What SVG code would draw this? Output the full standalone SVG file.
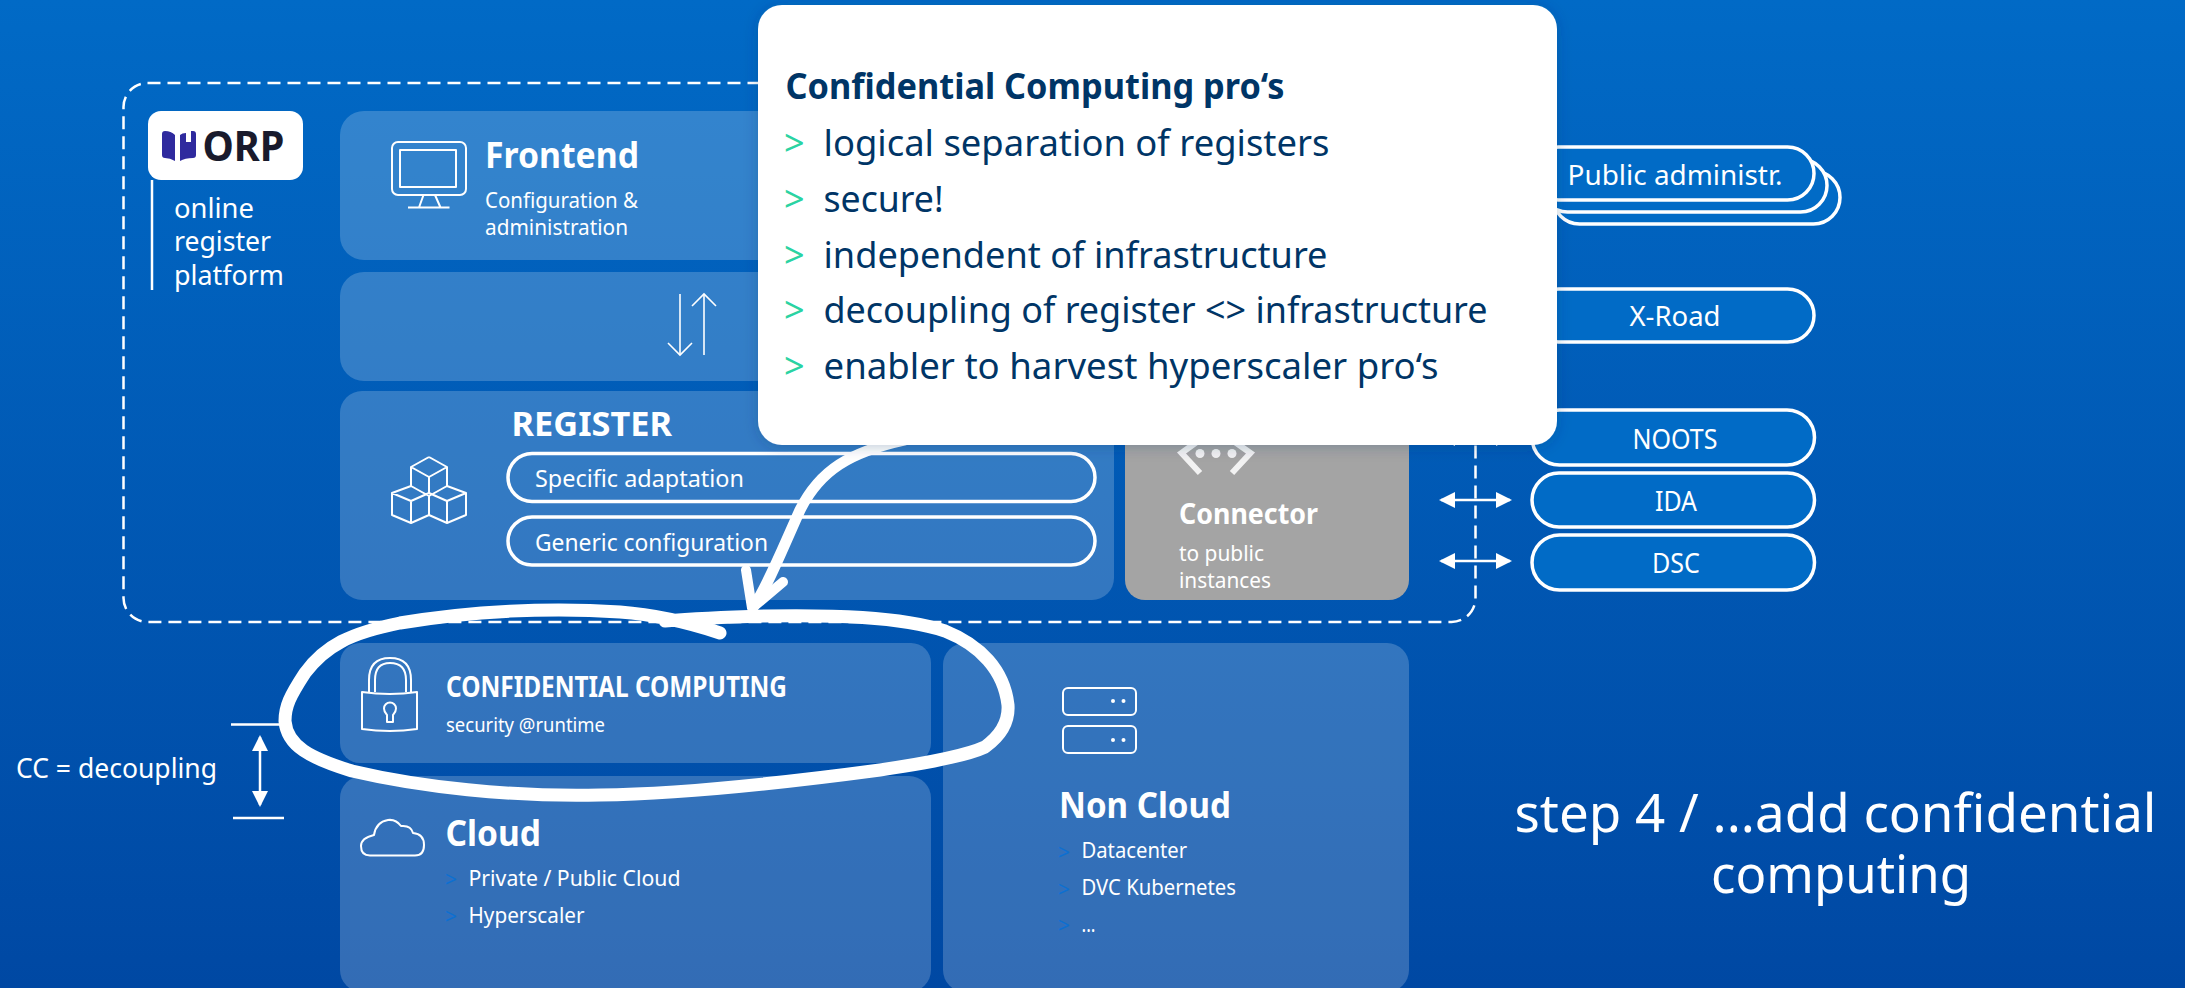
<svg xmlns="http://www.w3.org/2000/svg" width="2185" height="988" viewBox="0 0 2185 988">
<defs>
<linearGradient id="bg" x1="0" y1="0" x2="0" y2="1"><stop offset="0" stop-color="#016ac6"/><stop offset="1" stop-color="#0048a3"/></linearGradient>
<filter id="sh" x="-5%" y="-5%" width="110%" height="110%"><feDropShadow dx="0" dy="2" stdDeviation="7" flood-color="#002a60" flood-opacity="0.25"/></filter>
<marker id="solid" markerUnits="userSpaceOnUse" viewBox="0 0 16 16" refX="14" refY="8" markerWidth="16" markerHeight="16" orient="auto-start-reverse"><path d="M0 0L16 8L0 16Z" fill="#fff"/></marker>
<marker id="open" markerUnits="userSpaceOnUse" viewBox="0 0 28 28" refX="14" refY="14" markerWidth="28" markerHeight="28" orient="auto"><path d="M2 2L14 14L2 26" fill="none" stroke="#fff" stroke-width="1.6"/></marker>
</defs>
<style>
text{font-family:"Noto Sans","Open Sans","DejaVu Sans",sans-serif;fill:#fff}
.b{font-weight:700}
.panel{fill:#fff;fill-opacity:.2}
.pill{fill:#016bc6;stroke:#fff;stroke-width:3.5}
.opill{fill:none;stroke:#fff;stroke-width:3.5}
.icon{fill:none;stroke:#fff;stroke-width:2;stroke-linejoin:round}
.t21{font-size:21px}
.t24{font-size:24px}
.t27{font-size:27px}
.t36{font-size:36px}
.gt{fill:#003566;font-size:36px}
.gr{fill:#2bd3a2;font-size:36px}
.bl{fill:#0d6fd1;font-size:21px}
.ink{fill:none;stroke:#fff;stroke-linecap:round;stroke-linejoin:round}
.c{text-anchor:middle}
</style>
<rect width="2185" height="988" fill="url(#bg)"/>
<rect id="boundary" x="123.500" y="83" width="1352" height="539" rx="24" fill="none" stroke="#fff" stroke-width="2.500" stroke-dasharray="13 7"/>

<g id="orp">
<path d="M152 180V290" stroke="#fff" stroke-width="2.500" fill="none"/>
<rect x="148" y="111" width="155" height="69" rx="13" fill="#fff"/>
<path d="M162 134q0-3 3-3q6 0 10 4v26q-5-3-10-3q-3 0-3-3ZM196 134q0-3-3-3l-2 0v11h-5v-9q-4 0-6 2v26q5-3 13-3q3 0 3-3Z" fill="#2f2a9e"/>
<text x="202.500" y="161" class="b" font-size="41" style="fill:#191a2c" textLength="82" lengthAdjust="spacingAndGlyphs">ORP</text>
<text x="174" y="218" class="t27" textLength="80" lengthAdjust="spacingAndGlyphs">online</text>
<text x="174" y="251" class="t27" textLength="97" lengthAdjust="spacingAndGlyphs">register</text>
<text x="174" y="285" class="t27" textLength="110" lengthAdjust="spacingAndGlyphs">platform</text>
</g>

<g id="frontend">
<rect class="panel" x="340" y="111" width="1069" height="149" rx="24"/>
<rect class="icon" x="392" y="142" width="74" height="53" rx="6"/>
<rect class="icon" x="400" y="150" width="56" height="37"/>
<path class="icon" d="M423.500 195L419 207.500M435 195L440.500 207.500M408 207.500H449.500"/>
<text x="485" y="168" class="b t36" textLength="154" lengthAdjust="spacingAndGlyphs">Frontend</text>
<text x="485" y="208" class="t21" textLength="153" lengthAdjust="spacingAndGlyphs">Configuration &amp;</text>
<text x="485" y="235" class="t21" textLength="143" lengthAdjust="spacingAndGlyphs">administration</text>
</g>

<g id="middle-layer"><rect class="panel" x="340" y="272" width="1069" height="109" rx="24"/></g>

<g id="register">
<rect class="panel" x="340" y="391" width="774" height="209" rx="22"/>
<path class="icon" d="M429 457L447 467V486M429 457L411 467V486M411 467L429 477L447 467M429 477V493"/>
<path class="icon" d="M411 486L429 496V515L411 523L392 515V493Z M392 493L411 501L429 493M411 501V523"/>
<path class="icon" d="M447 486L429 496M447 486L466 493V515L447 523L429 515M429 493L447 501L466 493M447 501V523"/>
<text x="511.500" y="436" class="b" font-size="34" textLength="160.500" lengthAdjust="spacingAndGlyphs">REGISTER</text>
<rect class="opill" x="508" y="453.500" width="587" height="48" rx="24"/>
<rect class="opill" x="508" y="517" width="587" height="48" rx="24"/>
<text x="535" y="487" class="t24" textLength="209" lengthAdjust="spacingAndGlyphs">Specific adaptation</text>
<text x="535" y="551" class="t24" textLength="233" lengthAdjust="spacingAndGlyphs">Generic configuration</text>
</g>

<g id="connector">
<rect x="1125" y="391" width="284" height="209" rx="20" fill="#a4a4a4"/>
<path d="M1199.500 440L1181.500 453L1200 473M1232 440L1250.500 453L1232 473" fill="none" stroke="#f2f2f2" stroke-width="6"/>
<circle cx="1200" cy="453.500" r="4.500" fill="#f2f2f2"/><circle cx="1216" cy="453.500" r="4.500" fill="#f2f2f2"/><circle cx="1232" cy="453.500" r="4.500" fill="#f2f2f2"/>
<text x="1179" y="524" class="b" font-size="28" textLength="139" lengthAdjust="spacingAndGlyphs">Connector</text>
<text x="1179" y="561" class="t21" textLength="85" lengthAdjust="spacingAndGlyphs">to public</text>
<text x="1179" y="588" class="t21" textLength="92" lengthAdjust="spacingAndGlyphs">instances</text>
</g>

<g id="confidential-computing">
<rect class="panel" x="340" y="643" width="591" height="120" rx="20"/>
<path class="icon" d="M362 692Q390 696 417 692V729Q390 733 362 729Z"/>
<path class="icon" d="M369 692V680Q369 658 390 658Q411 658 411 680V692M375 692V680Q375 663 390 663Q406 663 406 680V692"/>
<path class="icon" d="M387 722V715Q384 712 384 708.500A6 6 0 0 1 396 708.500Q396 712 393 715V722Z"/>
<text x="446" y="697" class="b" font-size="28" textLength="341" lengthAdjust="spacingAndGlyphs">CONFIDENTIAL COMPUTING</text>
<text x="446" y="732" font-size="19" textLength="159" lengthAdjust="spacingAndGlyphs">security @runtime</text>
</g>

<g id="cloud">
<rect class="panel" x="340" y="776" width="591" height="216" rx="22"/>
<path class="icon" d="M370 855.500H415Q424 855.500 424 845Q424 834 413 833Q411 825 401 826Q396 819 388 820Q376 822 374 835Q361 838 361 846Q361 855.500 370 855.500Z"/>
<text x="445.500" y="846" class="b t36" textLength="95.500" lengthAdjust="spacingAndGlyphs">Cloud</text>
<text x="445" y="887" class="bl">&gt;</text>
<text x="468.500" y="886" class="t21" textLength="212" lengthAdjust="spacingAndGlyphs">Private / Public Cloud</text>
<text x="445" y="924" class="bl">&gt;</text>
<text x="468.500" y="923" class="t21" textLength="116" lengthAdjust="spacingAndGlyphs">Hyperscaler</text>
</g>

<g id="non-cloud">
<rect class="panel" x="943" y="643" width="466" height="349" rx="22"/>
<rect class="icon" x="1063" y="688" width="73" height="27" rx="5"/>
<rect class="icon" x="1063" y="726" width="73" height="27" rx="5"/>
<circle cx="1113" cy="701" r="2" fill="#fff"/><circle cx="1123.500" cy="701" r="2" fill="#fff"/>
<circle cx="1113" cy="740" r="2" fill="#fff"/><circle cx="1123.500" cy="740" r="2" fill="#fff"/>
<text x="1059" y="818" class="b t36" textLength="172" lengthAdjust="spacingAndGlyphs">Non Cloud</text>
<text x="1058" y="860" class="bl">&gt;</text>
<text x="1081.500" y="858" class="t21" textLength="105.500" lengthAdjust="spacingAndGlyphs">Datacenter</text>
<text x="1058" y="897" class="bl">&gt;</text>
<text x="1081.500" y="895" class="t21" textLength="154.500" lengthAdjust="spacingAndGlyphs">DVC Kubernetes</text>
<text x="1058" y="933" class="bl">&gt;</text>
<text x="1081.500" y="932" class="t21" textLength="14" lengthAdjust="spacingAndGlyphs">...</text>
</g>

<g id="public-administr">
<rect class="pill" x="1553" y="171" width="287" height="53" rx="26.500"/>
<rect class="pill" x="1541" y="159" width="286" height="53" rx="26.500"/>
<rect class="pill" x="1532" y="147" width="282" height="53" rx="26.500"/>
<text x="1567.500" y="184.500" class="t27" textLength="215" lengthAdjust="spacingAndGlyphs">Public administr.</text>
</g>
<g id="x-road"><rect class="pill" x="1532" y="289" width="282" height="53" rx="26.500"/><text x="1675" y="326" class="t27 c" textLength="91" lengthAdjust="spacingAndGlyphs">X-Road</text></g>
<g id="noots"><rect class="pill" x="1532" y="410" width="282.500" height="55" rx="27.500"/><text x="1675" y="449" class="t27 c" textLength="85" lengthAdjust="spacingAndGlyphs">NOOTS</text></g>
<g id="ida"><rect class="pill" x="1532" y="473" width="282.500" height="54" rx="27"/><text x="1676" y="511" class="t27 c" textLength="42" lengthAdjust="spacingAndGlyphs">IDA</text></g>
<g id="dsc"><rect class="pill" x="1532" y="535" width="282.500" height="55" rx="27.500"/><text x="1676" y="573" class="t27 c" textLength="48" lengthAdjust="spacingAndGlyphs">DSC</text></g>

<g id="decoupling">
<text x="16" y="778" class="t27" textLength="201" lengthAdjust="spacingAndGlyphs">CC = decoupling</text>
<path d="M231 724.500H285M233 818H284" stroke="#fff" stroke-width="2.500" fill="none"/>
</g>

<g id="connectors" fill="none" stroke="#fff">
<path d="M680 294V355" stroke-width="1.600" marker-end="url(#open)"/>
<path d="M704 355V294" stroke-width="1.600" marker-end="url(#open)"/>
<path d="M1441 438H1510" stroke-width="2.500" marker-start="url(#solid)" marker-end="url(#solid)"/>
<path d="M1441 500H1510" stroke-width="2.500" marker-start="url(#solid)" marker-end="url(#solid)"/>
<path d="M1441 561H1510" stroke-width="2.500" marker-start="url(#solid)" marker-end="url(#solid)"/>
<path d="M260 737V805" stroke-width="2.500" marker-start="url(#solid)" marker-end="url(#solid)"/>
</g>

<g id="pointer-arrow">
<path class="ink" stroke-width="11" d="M905 440C850 452 820 470 800 510C782 550 768 585 754 606"/>
<path class="ink" stroke-width="10" d="M746 570L752 608L783 582"/>
</g>

<g id="highlight-loop">
<path class="ink" stroke-width="13" stroke-linecap="butt" d="M720 633C690 623 660 615 620 612C550 607 470 611 400 623C350 633 325 646 305 673C290 696 285 706 285 721C287 746 310 758 352 771C420 787 510 797 600 795C680 794 790 782 880 770C935 762 970 754 985 747C1003 734 1009 720 1008 705C1004 670 980 645 945 631C900 616 830 615 765 616C730 617 700 618 665 621"/>
</g>

<g id="popup">
<rect x="758" y="5" width="799" height="440" rx="24" fill="#fff" filter="url(#sh)"/>
<text x="785.500" y="99" class="b t36" style="fill:#003566" textLength="499" lengthAdjust="spacingAndGlyphs">Confidential Computing pro‘s</text>
<text x="784" y="156" class="gr">&gt;</text><text x="823.500" y="155.500" class="gt" textLength="506" lengthAdjust="spacingAndGlyphs">logical separation of registers</text>
<text x="784" y="212" class="gr">&gt;</text><text x="823.500" y="211.500" class="gt" textLength="120" lengthAdjust="spacingAndGlyphs">secure!</text>
<text x="784" y="268" class="gr">&gt;</text><text x="823.500" y="267.500" class="gt" textLength="504" lengthAdjust="spacingAndGlyphs">independent of infrastructure</text>
<text x="784" y="323" class="gr">&gt;</text><text x="823.500" y="322.500" class="gt" textLength="664" lengthAdjust="spacingAndGlyphs">decoupling of register &lt;&gt; infrastructure</text>
<text x="784" y="379" class="gr">&gt;</text><text x="823.500" y="378.500" class="gt" textLength="615" lengthAdjust="spacingAndGlyphs">enabler to harvest hyperscaler pro‘s</text>
</g>

<g id="step-caption">
<text x="1835.500" y="832" font-size="52" class="c" textLength="642" lengthAdjust="spacingAndGlyphs">step 4 / ...add confidential</text>
<text x="1841" y="893" font-size="52" class="c" textLength="260" lengthAdjust="spacingAndGlyphs">computing</text>
</g>
</svg>
